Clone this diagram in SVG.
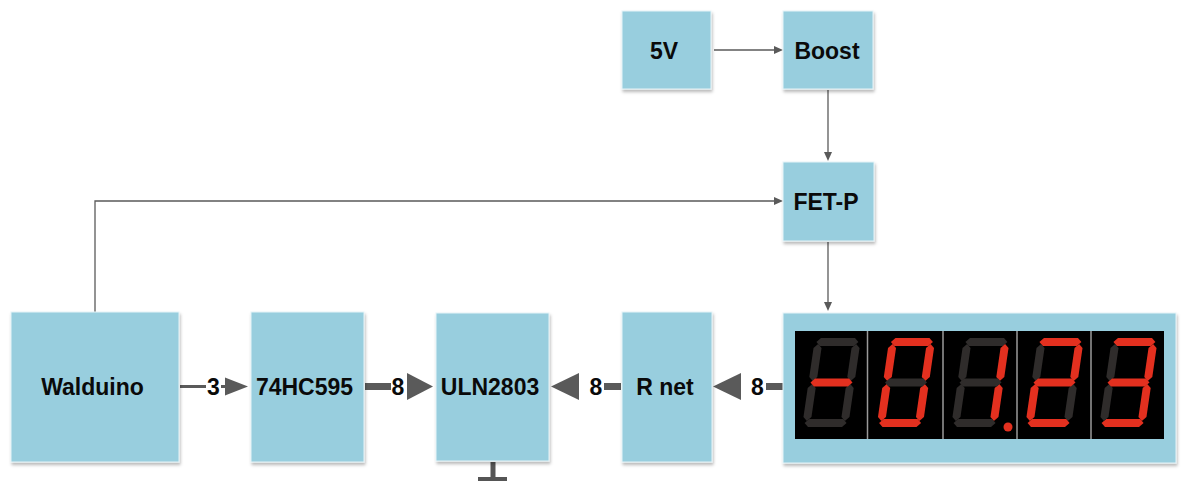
<svg xmlns="http://www.w3.org/2000/svg" width="1182" height="481" viewBox="0 0 1182 481">
<style>
.box{fill:#98cede;stroke:#e6f3f7;stroke-width:1;filter:url(#sh)}
.lbl{font-family:"Liberation Sans",Arial,sans-serif;font-weight:bold;font-size:23px;fill:#0a0a0a;text-anchor:middle}
.thin{stroke:#5a5a5a;stroke-width:1.3;fill:none}
.thick{stroke:#5a5a5a;fill:none}
.ah{fill:#5a5a5a}
.on{fill:#e3301f}
.off{fill:#2f2c2b}
</style>
<defs>
<filter id="sh" x="-10%" y="-10%" width="120%" height="125%">
<feDropShadow dx="1" dy="2.5" stdDeviation="1.5" flood-color="#000" flood-opacity="0.28"/>
</filter>
<polygon id="sa" points="-17,-44.5 17,-44.5 21,-40.5 17,-36.5 -17,-36.5 -21,-40.5"/>
<polygon id="sg" points="-17,-4 17,-4 21,0 17,4 -17,4 -21,0"/>
<polygon id="sd" points="-17,36.5 17,36.5 21,40.5 17,44.5 -17,44.5 -21,40.5"/>
<polygon id="sf" points="-19,-38.5 -15,-34.5 -15,-5.5 -19,-1.5 -23,-5.5 -23,-34.5"/>
<polygon id="sb" points="19,-38.5 23,-34.5 23,-5.5 19,-1.5 15,-5.5 15,-34.5"/>
<polygon id="se" points="-19,1.5 -15,5.5 -15,34.5 -19,38.5 -23,34.5 -23,5.5"/>
<polygon id="sc" points="19,1.5 23,5.5 23,34.5 19,38.5 15,34.5 15,5.5"/>
</defs>
<rect width="1182" height="481" fill="#ffffff"/>

<g id="connectors">
<line class="thin" x1="714" y1="50" x2="775" y2="50"/>
<polygon class="ah" points="783,50 774,46 774,54"/>
<line class="thin" x1="828" y1="90" x2="828" y2="153"/>
<polygon class="ah" points="828,161 824,152 832,152"/>
<polyline class="thin" points="95,312 95,201 775,201"/>
<polygon class="ah" points="783,201 774,197 774,205"/>
<line class="thin" x1="828" y1="242" x2="828" y2="303"/>
<polygon class="ah" points="828,311 824,302 832,302"/>

<line class="thick" stroke-width="3" x1="180" y1="386.5" x2="206" y2="386.5"/>
<text class="lbl" x="213.5" y="395">3</text>
<line class="thick" stroke-width="3" x1="221" y1="386.5" x2="227" y2="386.5"/>
<polygon class="ah" points="248,386.5 225,377.5 225,395.5"/>

<line class="thick" stroke-width="7" x1="365" y1="386.5" x2="391" y2="386.5"/>
<text class="lbl" x="398" y="395">8</text>
<polygon class="ah" points="433,386.5 407,373 407,400"/>

<polygon class="ah" points="551,386.5 579,373 579,400"/>
<text class="lbl" x="596" y="395">8</text>
<line class="thick" stroke-width="7" x1="604" y1="386.5" x2="621" y2="386.5"/>

<polygon class="ah" points="713,386.5 741,373 741,400"/>
<text class="lbl" x="757.5" y="395">8</text>
<line class="thick" stroke-width="7" x1="766" y1="386.5" x2="783" y2="386.5"/>

<line x1="493" y1="462" x2="493" y2="478" stroke="#555" stroke-width="5"/>
<rect x="478" y="477" width="29" height="4" fill="#555"/>
</g>

<g id="n5v"><rect class="box" x="622" y="11" width="89" height="78"/><text class="lbl" x="664" y="59">5V</text></g>
<g id="boost"><rect class="box" x="783" y="11" width="90" height="78"/><text class="lbl" x="827" y="59">Boost</text></g>
<g id="fetp"><rect class="box" x="783" y="162" width="91" height="79"/><text class="lbl" x="826" y="210">FET-P</text></g>
<g id="walduino"><rect class="box" x="11" y="312" width="168" height="150"/><text class="lbl" x="92.5" y="395">Walduino</text></g>
<g id="hc595"><rect class="box" x="251" y="312" width="113" height="150"/><text class="lbl" x="304.5" y="395">74HC595</text></g>
<g id="uln2803"><rect class="box" x="436" y="313" width="113" height="148"/><text class="lbl" x="490" y="395">ULN2803</text></g>
<g id="rnet"><rect class="box" x="622" y="312" width="90" height="150"/><text class="lbl" x="665" y="395">R net</text></g>

<g id="display">
<rect class="box" x="783" y="313" width="393" height="150"/>
<rect x="795" y="331" width="369" height="108" fill="#000"/>
<g stroke="#9a9a9a" stroke-width="1.5">
<line x1="867.5" y1="331" x2="867.5" y2="439"/>
<line x1="943" y1="331" x2="943" y2="439"/>
<line x1="1017" y1="331" x2="1017" y2="439"/>
<line x1="1091" y1="331" x2="1091" y2="439"/>
</g>
<g transform="translate(831.5,382.5) skewX(-8.3)">
<use href="#sa" class="off"/><use href="#sb" class="off"/><use href="#sc" class="off"/><use href="#sd" class="off"/><use href="#se" class="off"/><use href="#sf" class="off"/><use href="#sg" class="on"/>
</g>
<g transform="translate(906,382.5) skewX(-8.3)">
<use href="#sa" class="on"/><use href="#sb" class="on"/><use href="#sc" class="on"/><use href="#sd" class="on"/><use href="#se" class="on"/><use href="#sf" class="on"/><use href="#sg" class="off"/>
</g>
<g transform="translate(980.5,382.5) skewX(-8.3)">
<use href="#sa" class="off"/><use href="#sb" class="on"/><use href="#sc" class="on"/><use href="#sd" class="off"/><use href="#se" class="off"/><use href="#sf" class="off"/><use href="#sg" class="off"/>
</g>
<circle cx="1008" cy="427" r="4.5" class="on"/>
<g transform="translate(1054.5,382.5) skewX(-8.3)">
<use href="#sa" class="on"/><use href="#sb" class="on"/><use href="#sc" class="off"/><use href="#sd" class="on"/><use href="#se" class="on"/><use href="#sf" class="off"/><use href="#sg" class="on"/>
</g>
<g transform="translate(1128.5,382.5) skewX(-8.3)">
<use href="#sa" class="on"/><use href="#sb" class="on"/><use href="#sc" class="on"/><use href="#sd" class="on"/><use href="#se" class="off"/><use href="#sf" class="off"/><use href="#sg" class="on"/>
</g>
</g>
</svg>
